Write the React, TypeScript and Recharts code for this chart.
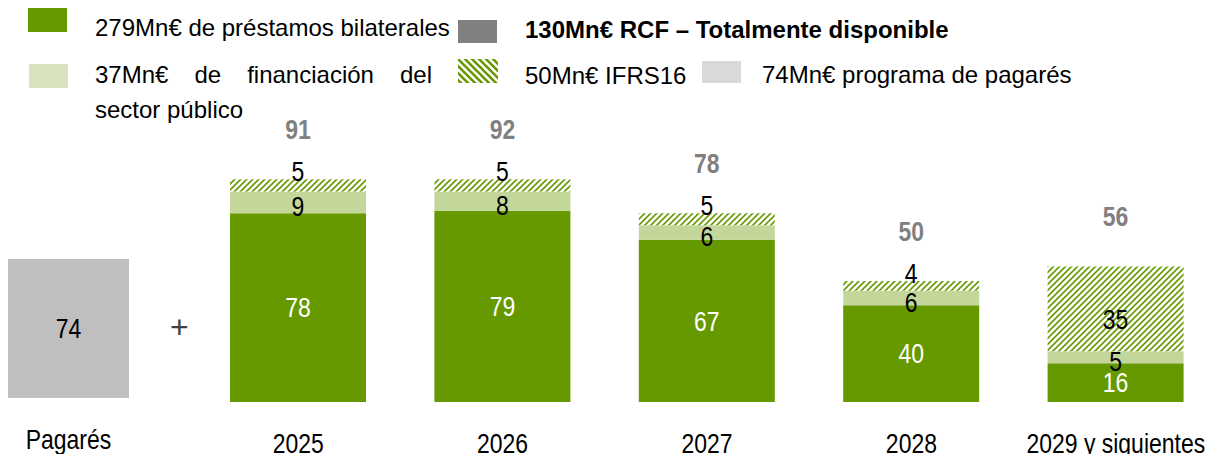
import { BarChart, Bar, XAxis, YAxis, LabelList } from "recharts";

const categories = ["2025", "2026", "2027", "2028", "2029 y siguientes"];
const bilateral = [78, 79, 67, 40, 16];
const publico = [9, 8, 6, 6, 5];
const ifrs = [5, 5, 5, 4, 35];
const totals = [91, 92, 78, 50, 56];

const pagaresCategories = ["Pagarés"];
const pagares = [74];

const data = categories.map((name, i) => ({
  name,
  bilateral: bilateral[i],
  publico: publico[i],
  ifrs: ifrs[i],
  total: totals[i]
}));

const pagaresData = pagaresCategories.map((name, i) => ({
  name,
  value: pagares[i]
}));

const SANS = "'Liberation Sans', Arial, sans-serif";

const DARK_GREEN = "#669900";
const LIGHT_GREEN = "#c4d79b";

// no Arial Narrow here, so squeeze Liberation Sans sideways
function NarrowText({ x, y, dy, fill, bold, children }: any) {
  return (
    <text
      transform={`translate(${x},${y}) scale(0.82,1)`}
      x={0}
      y={0}
      dy={dy}
      textAnchor="middle"
      fill={fill}
      fontSize={28}
      fontWeight={bold ? "bold" : "normal"}
      fontFamily={SANS}
    >
      {children}
    </text>
  );
}

// labels inside a segment, black ones sit a bit low like in the slide
function insideLabel(color: string, shift: number) {
  return (p: any) => {
    const { x, y, width, height, value } = p;
    return (
      <NarrowText x={x + width / 2} y={y + height / 2 + shift} dy="0.35em" fill={color}>
        {value}
      </NarrowText>
    );
  };
}

// thin hatched segments get their number pushed up over the edge
const ifrsLabel = (p: any) => {
  const { x, y, width, height, value } = p;
  const cy = height < 30 ? y - 8 : y + height / 2 + 10;
  return (
    <NarrowText x={x + width / 2} y={cy} dy="0.35em" fill="#000">
      {value}
    </NarrowText>
  );
};

const totalLabel = (p: any) => {
  const { x, y, width, value } = p;
  return (
    <NarrowText x={x + width / 2} y={y - 50} dy="0.35em" fill="#808080" bold>
      {value}
    </NarrowText>
  );
};

const CategoryTick = (p: any) => {
  const { x, y, payload } = p;
  return (
    <NarrowText x={x} y={y} dy="0.71em" fill="#000">
      {payload.value}
    </NarrowText>
  );
};

function Swatch({ left, top, w, h, fill }: any) {
  return (
    <div
      style={{
        position: "absolute",
        left,
        top,
        width: w,
        height: h,
        background: fill
      }}
    />
  );
}

function LegendText({ left, top, children, bold, width, justify }: any) {
  return (
    <div
      style={{
        position: "absolute",
        left,
        top,
        width,
        fontFamily: SANS,
        fontSize: 24,
        lineHeight: "24px",
        fontWeight: bold ? "bold" : "normal",
        color: "#000",
        whiteSpace: "nowrap",
        textAlign: justify ? "justify" : "left",
        textAlignLast: justify ? "justify" : "auto"
      }}
    >
      {children}
    </div>
  );
}

export default function App() {
  return (
    <div
      style={{
        position: "relative",
        width: 1223,
        height: 462,
        margin: -8,
        background: "#fff",
        overflow: "hidden"
      }}
    >
      <svg width={0} height={0} style={{ position: "absolute" }}>
        <defs>
          <pattern id="hatchUp" patternUnits="userSpaceOnUse" width={6} height={6}>
            <rect width={6} height={6} fill="#fff" />
            <path
              d="M0,6 L6,0 M-1,1 L1,-1 M5,7 L7,5"
              stroke={DARK_GREEN}
              strokeWidth={1.6}
            />
          </pattern>
          <pattern id="hatchDown" patternUnits="userSpaceOnUse" width={7} height={7}>
            <rect width={7} height={7} fill="#fff" />
            <path
              d="M0,0 L7,7 M-1,6 L1,8 M6,-1 L8,1"
              stroke={DARK_GREEN}
              strokeWidth={2.6}
            />
          </pattern>
        </defs>
      </svg>

      {/* legend */}
      <Swatch left={28} top={8} w={39} h={24} fill={DARK_GREEN} />
      <LegendText left={95} top={16}>279Mn€ de préstamos bilaterales</LegendText>

      <Swatch left={458} top={20} w={39} h={23} fill="#808080" />
      <LegendText left={525} top={18} bold>
        130Mn€ RCF – Totalmente disponible
      </LegendText>

      <Swatch left={29} top={64} w={39} h={24} fill="#d7e4bd" />
      <LegendText left={95} top={63} width={337} justify>
        37Mn€ de financiación del
      </LegendText>
      <LegendText left={95} top={98}>sector público</LegendText>

      <svg
        width={40}
        height={24}
        style={{ position: "absolute", left: 458, top: 59 }}
      >
        <rect width={40} height={24} fill="url(#hatchDown)" />
      </svg>
      <LegendText left={525} top={64}>50Mn€ IFRS16</LegendText>

      <Swatch left={702} top={61} w={39} h={22} fill="#d9d9d9" />
      <LegendText left={762} top={63}>74Mn€ programa de pagarés</LegendText>

      {/* pagarés block */}
      <div style={{ position: "absolute", left: 0, top: 0 }}>
        <BarChart
          width={137}
          height={462}
          data={pagaresData}
          margin={{ top: 210, right: 8, bottom: 0, left: 8 }}
          barCategoryGap={0}
        >
          <XAxis
            dataKey="name"
            axisLine={false}
            tickLine={false}
            tickSize={0}
            tickMargin={31}
            height={64}
            interval={0}
            tick={<CategoryTick />}
          />
          <YAxis hide domain={[0, 100]} />
          <Bar dataKey="value" fill="#bfbfbf" isAnimationActive={false}>
            <LabelList dataKey="value" content={insideLabel("#000", 0)} />
          </Bar>
        </BarChart>
      </div>

      <div
        style={{
          position: "absolute",
          left: 170,
          top: 311,
          fontFamily: SANS,
          fontSize: 32,
          lineHeight: "32px",
          color: "#404040"
        }}
      >
        +
      </div>

      {/* maturities */}
      <div style={{ position: "absolute", left: 0, top: 0 }}>
        <BarChart
          width={1223}
          height={462}
          data={data}
          margin={{ top: 160, right: 5, bottom: 0, left: 196 }}
          barSize={136}
        >
          <XAxis
            dataKey="name"
            axisLine={false}
            tickLine={false}
            tickSize={0}
            tickMargin={31}
            height={60}
            interval={0}
            tick={<CategoryTick />}
          />
          <YAxis hide domain={[0, 100]} />
          <Bar dataKey="bilateral" stackId="a" fill={DARK_GREEN} isAnimationActive={false}>
            <LabelList dataKey="bilateral" content={insideLabel("#fff", 0)} />
          </Bar>
          <Bar dataKey="publico" stackId="a" fill={LIGHT_GREEN} isAnimationActive={false}>
            <LabelList dataKey="publico" content={insideLabel("#000", 4)} />
          </Bar>
          <Bar dataKey="ifrs" stackId="a" fill="url(#hatchUp)" isAnimationActive={false}>
            <LabelList dataKey="ifrs" content={ifrsLabel} />
            <LabelList dataKey="total" content={totalLabel} />
          </Bar>
        </BarChart>
      </div>
    </div>
  );
}
